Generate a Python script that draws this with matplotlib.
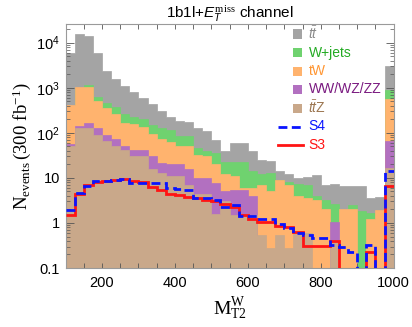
import numpy as np
import matplotlib
matplotlib.use('Agg')
import matplotlib.pyplot as plt
from matplotlib.ticker import FixedLocator, MultipleLocator, FuncFormatter, NullFormatter, LogLocator
from matplotlib.patches import Rectangle
from matplotlib.lines import Line2D

plt.rcParams['font.family'] = ['Liberation Sans', 'DejaVu Sans']
plt.rcParams['mathtext.fontset'] = 'custom'
plt.rcParams['mathtext.rm'] = 'Liberation Serif'
plt.rcParams['mathtext.it'] = 'Liberation Sans:italic'
plt.rcParams['mathtext.default'] = 'regular'

# ---- data (bins of 25 from 100 to 1000; last bin is overflow) ----
bin_lo, bin_hi, bin_w = 100, 1000, 25
tt = [6000, 16000, 14000, 6000, 2400, 1550, 1100, 820, 580, 440, 300, 230,
      180, 175, 125, 108, 68, 40, 60, 58, 40, 25, 24, 14, 12.5, 9.7, 10.5,
      11.5, 7.0, 7.5, 6.5, 6.5, 6.5, 3.5, 3.8, 3100]
wjets = [400, 1000, 1150, 620, 460, 370, 260, 220, 205, 150, 125, 117,
         85, 85, 45, 40, 35, 23, 23, 23, 14, 12, 13, 9.2, 8.3, 7.5, 7.0,
         4.0, 3.2, 2.7, 1.7, 2.5, 1.8, 1.7, 1.3, 900]
tw = [415, 1020, 1020, 500, 355, 260, 165, 160, 138, 92, 72, 64,
      50, 50, 33, 30, 20, 12, 11, 6, 6, 7, 5, 9, 7, 4, 3.5,
      3.2, 2.0, 0.9, 2.0, 2.0, 0, 1.2, 1.9, 570]
vv = [57, 145, 165, 126, 90, 72, 51, 42, 42, 30, 21, 20,
      20, 16, 10, 10, 7.8, 5, 5.5, 5.5, 4, 0, 0, 0, 0, 0, 0,
      0, 0, 1.07, 0, 0, 0, 0, 0, 66]
ttz = [50, 126, 126, 91, 65, 50, 42, 30, 30, 16, 13, 11,
       11, 7, 4.3, 4.3, 1.6, 3.0, 1.5, 1.5, 1.5, 0.54, 0.28, 0.54, 0.28, 0.6, 0.6,
       0, 0, 0.42, 0, 0, 0, 0, 0, 16.6]
s4 = [1.95, 4.7, 6.6, 8.6, 8.7, 9.0, 9.4, 7.6, 7.6, 7.8, 7.8, 6.1,
      5.8, 5.5, 3.6, 3.6, 3.3, 2.3, 2.5, 1.4, 1.4, 1.2, 1.2, 0.95, 0.76, 0.59, 0.55,
      0.46, 0.46, 0.32, 0.3, 0.23, 0, 0.32, 0, 14.5]
s3 = [1.5, 4.4, 7.0, 7.9, 8.6, 9.0, 9.6, 8.4, 7.9, 6.4, 5.4, 4.3,
      4.1, 3.8, 3.5, 3.3, 3.0, 2.6, 2.3, 1.5, 1.25, 1.05, 1.05, 0.85, 0.8, 0.62, 0.31,
      0.31, 0.31, 0.39, 0, 0, 0, 0.23, 0, 6.7]

bkg_labels = [r'$\mathit{t\bar{t}}$', 'W+jets', 'tW', 'WW/WZ/ZZ', r'$\mathit{t\bar{t}}$Z']
bkg_fill = ['#a4a4a4', '#6fd26f', '#ffb36e', '#b270c0', '#c9a88a']
bkg_text = ['#8a8a8a', '#22aa22', '#ff9633', '#7a1a80', '#9c7650']
sig_labels = ['S4', 'S3']
sig_colors = ['#0a14ff', '#ff1414']

W, H = 412, 327
fig = plt.figure(figsize=(W / 100, H / 100), dpi=100)
L, R, T, B = 65.5, 393.7, 24, 268
ax = fig.add_axes([L / W, 1 - B / H, (R - L) / W, (B - T) / H])
ax.set_yscale('log')

edges = np.arange(bin_lo, bin_hi + 1, bin_w)
floor = 1e-3
for vals, col in zip([tt, wjets, tw, vv, ttz], bkg_fill):
    v = np.array(vals, dtype=float)
    v = np.where(v > 0, v, floor)
    ax.stairs(v, edges, baseline=floor, fill=True, facecolor=col,
              edgecolor=col, lw=0.5, zorder=1)

for vals, col, ls in [(s3, sig_colors[1], '-'), (s4, sig_colors[0], '--')]:
    v = np.array(vals, dtype=float)
    v = np.where(v > 0, v, floor)
    st = ax.stairs(v, edges, baseline=None, color=col, lw=2.0, zorder=3)
    if ls == '--':
        st.set_linestyle((0, (3.2, 1.6)))

ax.set_xlim(bin_lo, bin_hi)
ax.set_ylim(0.1, 2.6e4)

ax.xaxis.set_major_locator(FixedLocator([200, 400, 600, 800, 1000]))
ax.xaxis.set_minor_locator(MultipleLocator(50))
ax.yaxis.set_major_locator(FixedLocator([0.1, 1, 10, 100, 1000, 10000]))
ylab = {0.1: '0.1', 1: '1', 10: '10', 100: '$10^{2}$', 1000: '$10^{3}$', 10000: '$10^{4}$'}
ax.yaxis.set_major_formatter(FuncFormatter(lambda v, p: ylab.get(round(v, 3) if v < 1 else int(round(v)), '')))
ax.yaxis.set_minor_locator(LogLocator(base=10, subs=np.arange(2, 10), numticks=20))
ax.yaxis.set_minor_formatter(NullFormatter())

ax.tick_params(which='both', direction='in', top=True, right=True,
               color='#555555', labelsize=10.5, labelcolor='black')
ax.tick_params(axis='x', which='both', length=3.5, width=0.6, pad=6)
ax.tick_params(axis='y', which='major', length=5.5, width=0.6, pad=4)
ax.tick_params(axis='y', which='minor', length=3, width=0.5)
for sp in ax.spines.values():
    sp.set_color('#9a9a9a')
    sp.set_linewidth(0.8)

ax.set_title(r'1b1l+$\mathit{E}_{\mathit{T}}^{\mathrm{miss}}$ channel', fontsize=11, pad=4)
ax.set_xlabel(r'$\mathrm{M_{T2}^{W}}$', fontsize=14, labelpad=4)
ax.set_ylabel(r'$\mathrm{N_{events}\,(300\ fb^{-1})}$', fontsize=13.5, labelpad=2)

# manual legend (figure pixel coordinates)
def fx(x):
    return x / W
def fy(y):
    return 1 - y / H

rows = [34, 52.5, 71, 89.5, 108, 126.5, 145]
for i, (lab, fc, tc) in enumerate(zip(bkg_labels, bkg_fill, bkg_text)):
    y = rows[i]
    fig.patches.append(Rectangle((fx(292.5), fy(y + 4.5)), 9.5 / W, 9 / H,
                                 transform=fig.transFigure, facecolor=fc, edgecolor='none'))
    fig.text(fx(308.5), fy(y), lab, color=tc, fontsize=10, va='center', ha='left')
for j, (lab, col) in enumerate(zip(sig_labels, sig_colors)):
    y = rows[5 + j]
    ln = Line2D([fx(277.5), fx(302.5)], [fy(y), fy(y)], transform=fig.transFigure,
                color=col, lw=2.0, linestyle=(0, (3.2, 1.6)) if j == 0 else '-')
    fig.add_artist(ln)
    fig.text(fx(308.5), fy(y), lab, color=col, fontsize=10, va='center', ha='left')

fig.savefig('out.png', dpi=100)
